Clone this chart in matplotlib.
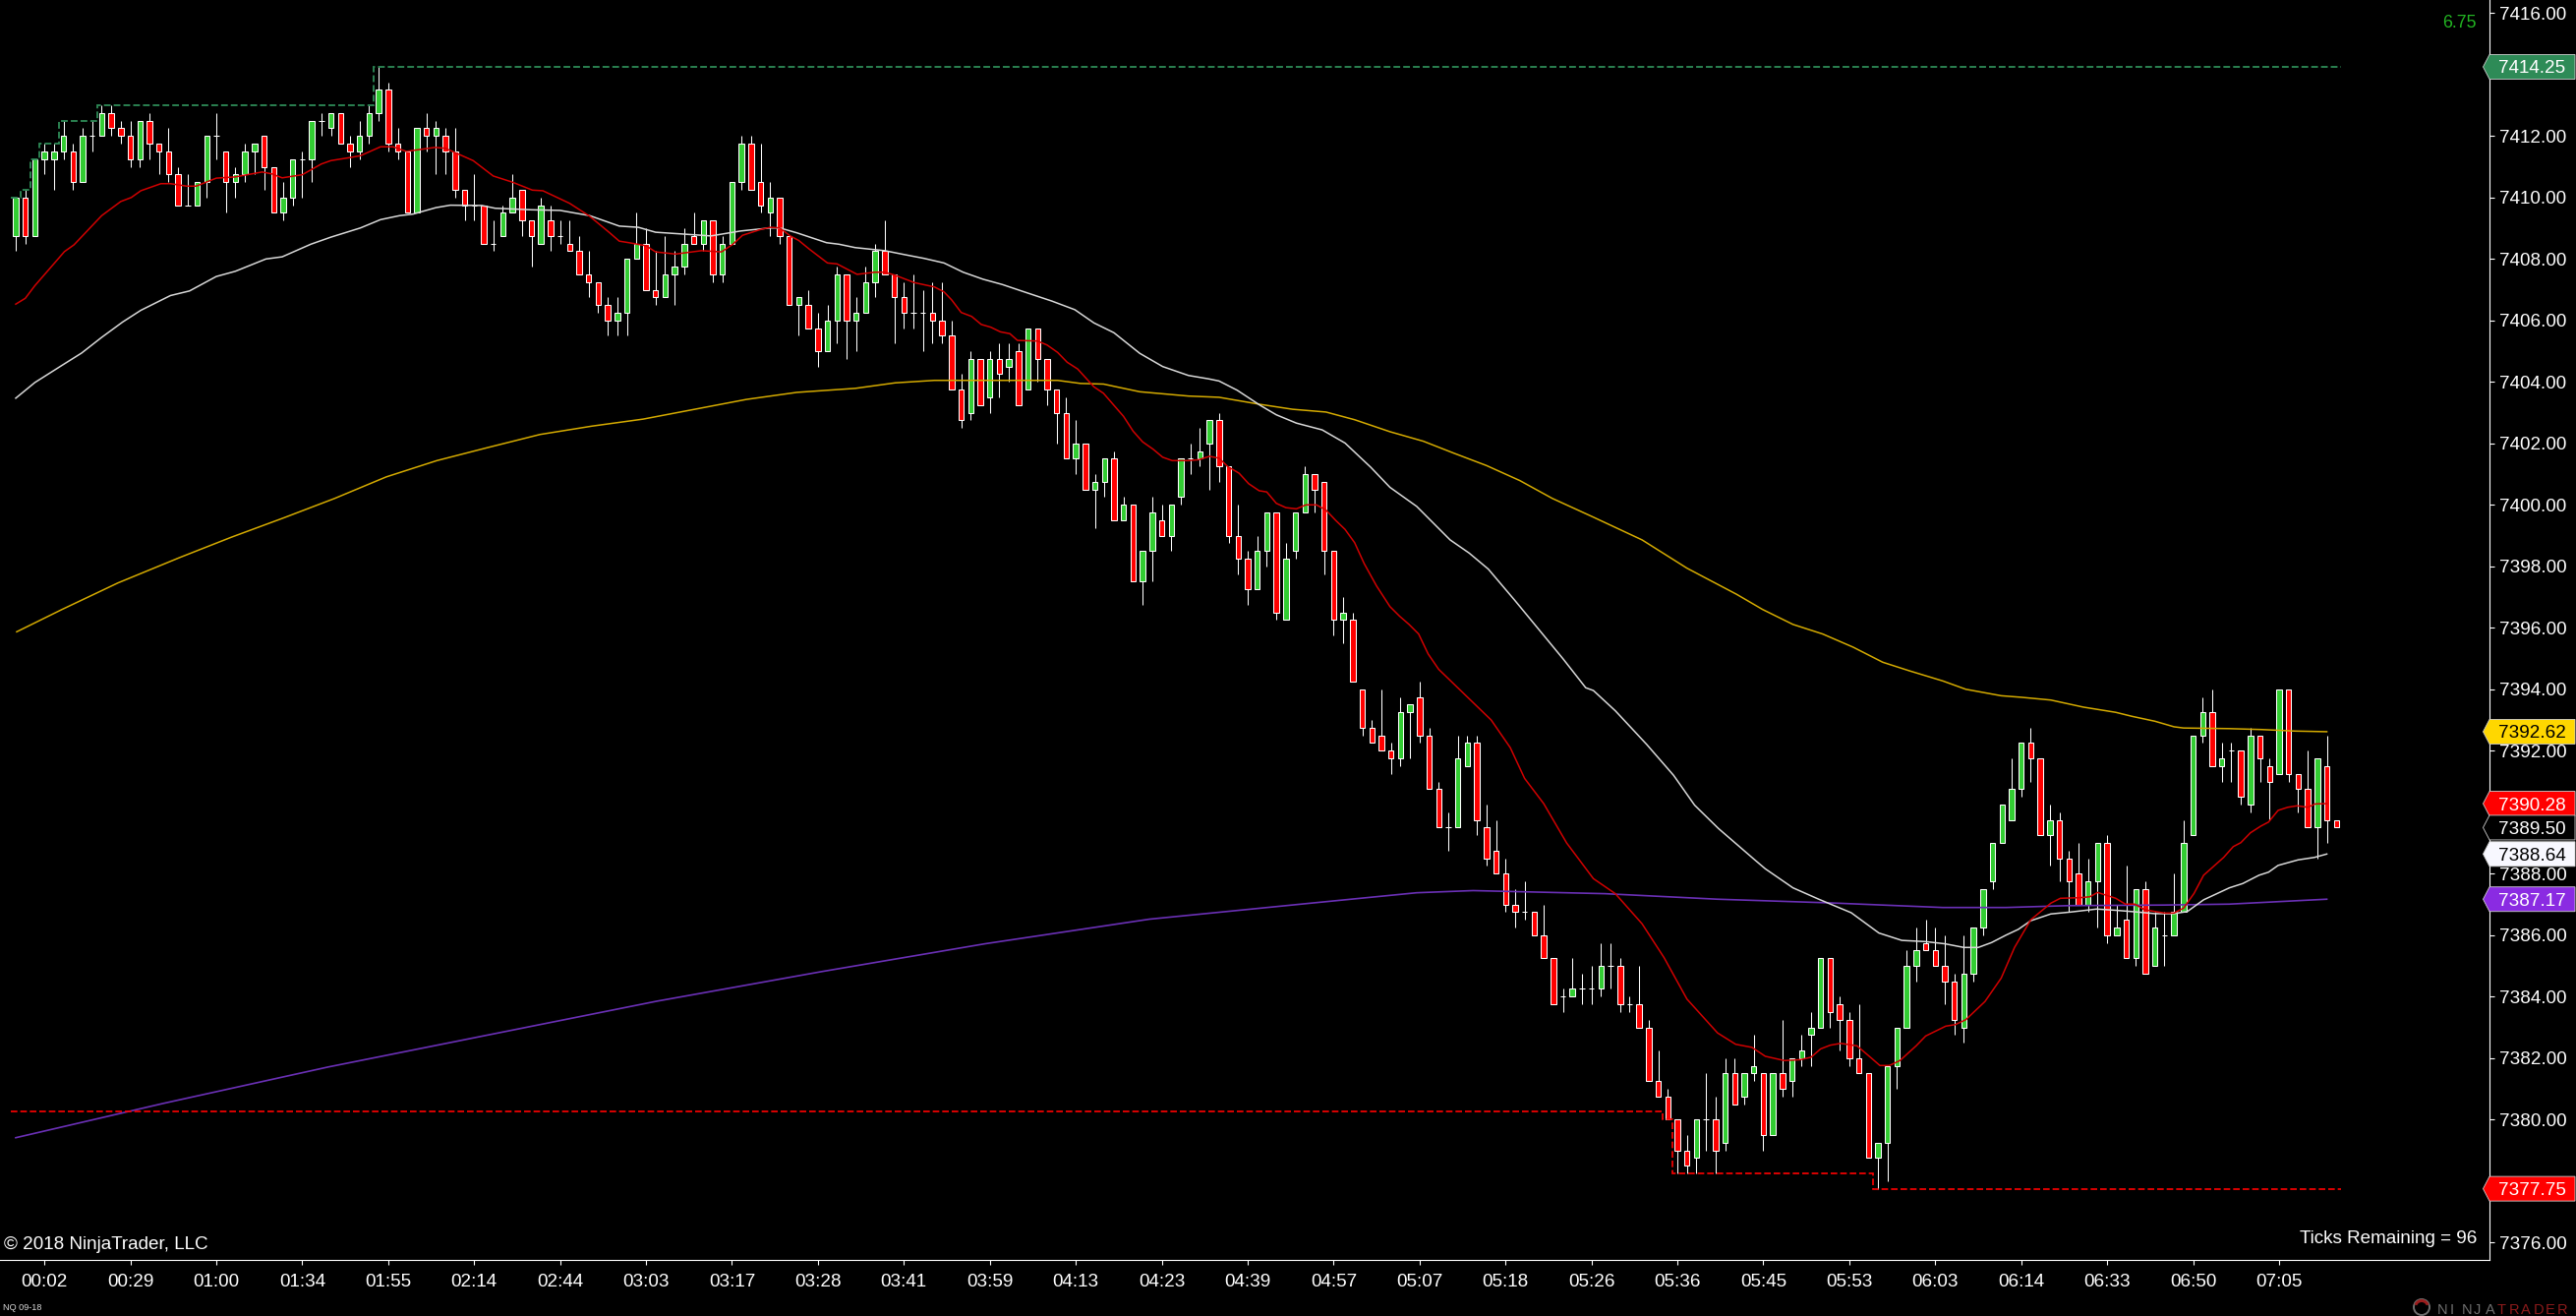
import matplotlib
matplotlib.use("Agg")
import matplotlib.pyplot as plt
import numpy as np
from matplotlib.patches import Polygon, Circle, Wedge

plt.rcParams['font.family'] = ['Liberation Sans', 'DejaVu Sans']

# ---------------- DATA ----------------
opens = [
    7408.75, 7410.0, 7408.75, 7411.25, 7411.25, 7411.5, 7411.5, 7410.5, 7412.0, 7412.0,
    7412.75, 7412.25, 7412.0, 7411.25, 7412.5, 7411.75, 7411.5, 7410.75, 7409.75, 7409.75,
    7410.5, 7412.0, 7411.5, 7410.5, 7410.75, 7411.5, 7412.0, 7411.0, 7409.5, 7410.0,
    7411.25, 7411.25, 7412.5, 7412.25, 7412.75, 7411.75, 7411.5, 7412.0, 7412.75, 7413.5,
    7411.75, 7411.5, 7409.5, 7412.25, 7412.0, 7412.0, 7411.5, 7410.25, 7409.75, 7409.75,
    7408.5, 7408.75, 7409.5, 7410.25, 7409.25, 7408.5, 7409.25, 7408.75, 7408.5, 7408.25,
    7407.5, 7407.25, 7406.5, 7406.0, 7406.25, 7408.0, 7408.5, 7407.0, 7406.75, 7407.5,
    7407.75, 7408.75, 7408.5, 7409.25, 7407.5, 7408.5, 7410.5, 7411.75, 7410.5, 7409.5,
    7410.0, 7408.75, 7406.5, 7406.5, 7405.75, 7405.0, 7406.0, 7407.5, 7406.0, 7406.25,
    7407.25, 7408.25, 7407.5, 7406.75, 7406.25, 7406.25, 7406.25, 7406.0, 7405.5, 7403.75,
    7403.0, 7404.75, 7403.5, 7404.75, 7404.5, 7405.0, 7403.75, 7405.75, 7404.75, 7403.75,
    7403.0, 7401.5, 7402.0, 7400.5, 7400.75, 7401.5, 7399.5, 7400.0, 7397.5, 7398.5,
    7399.5, 7399.0, 7400.25, 7401.5, 7401.5, 7402.0, 7402.75, 7401.25, 7399.0, 7398.25,
    7397.25, 7398.5, 7399.75, 7396.25, 7398.5, 7399.75, 7401.0, 7400.75, 7398.5, 7396.25,
    7396.25, 7394.0, 7392.75, 7392.5, 7392.0, 7391.75, 7393.25, 7393.75, 7392.5, 7390.75,
    7389.5, 7389.5, 7391.5, 7392.25, 7389.5, 7388.75, 7388.0, 7387.0, 7386.75, 7386.75,
    7386.0, 7385.25, 7384.0, 7384.0, 7384.25, 7384.25, 7384.25, 7385.0, 7385.0, 7383.75,
    7383.75, 7383.0, 7381.25, 7380.75, 7380.0, 7379.0, 7378.75, 7380.0, 7380.0, 7379.25,
    7381.5, 7380.75, 7381.5, 7381.5, 7379.5, 7381.5, 7381.25, 7382.0, 7382.75, 7383.0,
    7385.25, 7383.75, 7383.25, 7382.0, 7381.5, 7378.75, 7379.25, 7381.75, 7383.0, 7385.0,
    7385.75, 7385.5, 7385.0, 7384.5, 7383.0, 7384.75, 7386.25, 7387.75, 7389.0, 7389.75,
    7390.75, 7392.25, 7391.75, 7389.25, 7389.75, 7388.5, 7388.0, 7387.0, 7387.75, 7389.0,
    7386.0, 7386.5, 7385.25, 7387.5, 7385.0, 7386.0, 7386.0, 7386.75, 7389.25, 7392.5,
    7393.25, 7391.5, 7392.0, 7392.0, 7390.25, 7392.5, 7391.5, 7391.25, 7394.0, 7391.25,
    7390.75, 7389.5, 7391.5, 7389.75,
]
highs = [
    7410.0, 7410.25, 7411.25, 7411.75, 7411.75, 7412.5, 7411.75, 7412.25, 7412.5, 7413.0,
    7413.0, 7412.5, 7412.5, 7412.5, 7412.75, 7411.75, 7412.25, 7411.0, 7410.75, 7410.5,
    7412.0, 7412.75, 7411.5, 7411.0, 7411.75, 7411.75, 7412.0, 7411.0, 7410.5, 7411.25,
    7411.5, 7412.5, 7412.75, 7412.75, 7412.75, 7412.0, 7412.5, 7413.0, 7414.25, 7413.75,
    7412.25, 7411.5, 7412.25, 7412.75, 7412.5, 7412.25, 7412.25, 7410.25, 7410.75, 7409.75,
    7409.25, 7409.75, 7410.75, 7410.25, 7409.25, 7410.0, 7409.75, 7409.25, 7409.25, 7408.75,
    7408.25, 7407.25, 7406.75, 7406.75, 7408.0, 7409.5, 7409.0, 7408.25, 7408.75, 7408.25,
    7409.0, 7409.5, 7409.25, 7409.25, 7408.75, 7410.5, 7412.0, 7412.0, 7411.75, 7410.5,
    7410.0, 7408.75, 7406.75, 7407.0, 7406.25, 7406.5, 7407.75, 7407.5, 7406.75, 7407.75,
    7408.5, 7409.25, 7407.5, 7407.25, 7407.5, 7407.0, 7407.25, 7407.25, 7406.0, 7404.25,
    7405.0, 7404.75, 7405.0, 7405.25, 7405.25, 7405.25, 7405.75, 7405.75, 7404.75, 7403.75,
    7403.5, 7402.75, 7402.0, 7401.0, 7401.5, 7401.75, 7400.25, 7400.0, 7398.5, 7400.25,
    7400.0, 7400.0, 7401.5, 7402.0, 7402.5, 7402.75, 7403.0, 7401.25, 7400.0, 7398.5,
    7399.0, 7399.75, 7399.75, 7398.75, 7399.75, 7401.25, 7401.0, 7400.75, 7398.5, 7397.0,
    7396.5, 7394.0, 7393.0, 7394.0, 7392.25, 7393.75, 7393.5, 7394.25, 7392.75, 7391.0,
    7390.0, 7392.5, 7392.5, 7392.5, 7390.25, 7389.75, 7388.5, 7387.5, 7387.75, 7386.75,
    7387.0, 7385.25, 7384.25, 7385.25, 7384.75, 7385.0, 7385.75, 7385.75, 7385.25, 7384.0,
    7385.0, 7383.25, 7382.25, 7381.0, 7380.0, 7379.5, 7380.0, 7381.5, 7380.75, 7382.0,
    7382.0, 7381.5, 7382.75, 7381.5, 7381.5, 7383.25, 7382.0, 7382.75, 7383.5, 7385.25,
    7385.25, 7384.0, 7383.5, 7383.75, 7381.5, 7379.25, 7381.75, 7383.0, 7385.5, 7386.25,
    7386.5, 7386.25, 7386.0, 7384.75, 7386.0, 7386.25, 7387.5, 7389.0, 7390.25, 7391.75,
    7392.25, 7392.75, 7391.75, 7390.25, 7390.0, 7388.75, 7389.0, 7388.5, 7389.0, 7389.25,
    7387.0, 7388.25, 7387.5, 7387.75, 7386.75, 7386.75, 7388.0, 7389.75, 7392.5, 7393.75,
    7394.0, 7392.25, 7392.25, 7392.0, 7392.75, 7392.5, 7391.75, 7394.0, 7394.0, 7391.25,
    7392.0, 7391.75, 7392.5, 7389.75,
]
lows = [
    7408.25, 7408.5, 7408.75, 7410.75, 7410.25, 7411.25, 7410.25, 7410.5, 7411.5, 7412.0,
    7412.0, 7411.75, 7411.0, 7411.0, 7411.25, 7410.75, 7410.5, 7409.75, 7409.75, 7409.75,
    7410.0, 7411.25, 7409.5, 7410.0, 7410.5, 7410.75, 7410.25, 7409.5, 7409.25, 7409.75,
    7410.0, 7410.5, 7412.0, 7412.0, 7411.75, 7411.0, 7411.25, 7411.75, 7412.5, 7411.5,
    7411.25, 7409.5, 7409.5, 7411.5, 7410.75, 7410.75, 7410.0, 7409.25, 7409.25, 7408.5,
    7408.25, 7408.75, 7409.5, 7408.75, 7407.75, 7408.5, 7408.25, 7408.5, 7408.25, 7407.5,
    7406.75, 7406.25, 7405.5, 7405.5, 7405.5, 7408.0, 7407.0, 7406.5, 7406.75, 7406.5,
    7407.5, 7408.5, 7408.25, 7407.25, 7407.25, 7408.5, 7410.25, 7410.25, 7409.5, 7408.75,
    7408.5, 7406.5, 7405.5, 7405.75, 7404.5, 7405.0, 7405.25, 7404.75, 7405.0, 7406.25,
    7406.75, 7407.5, 7405.25, 7405.75, 7405.75, 7405.0, 7405.25, 7405.25, 7403.75, 7402.5,
    7402.75, 7403.25, 7403.0, 7403.5, 7404.0, 7403.25, 7403.75, 7404.0, 7403.25, 7402.0,
    7401.5, 7401.0, 7400.5, 7399.25, 7400.25, 7399.5, 7399.5, 7397.5, 7396.75, 7397.5,
    7399.0, 7398.5, 7400.0, 7401.0, 7401.25, 7400.5, 7400.75, 7398.75, 7397.75, 7396.75,
    7397.25, 7398.0, 7396.25, 7396.25, 7398.25, 7399.75, 7399.75, 7397.75, 7395.75, 7395.5,
    7394.25, 7392.5, 7392.25, 7392.0, 7391.25, 7391.5, 7391.75, 7392.25, 7390.75, 7389.5,
    7388.75, 7389.5, 7391.5, 7389.25, 7388.25, 7388.0, 7386.75, 7386.25, 7386.5, 7386.0,
    7385.25, 7383.75, 7383.5, 7384.0, 7383.75, 7383.75, 7384.0, 7384.25, 7383.5, 7383.5,
    7383.0, 7381.25, 7380.75, 7380.0, 7378.25, 7378.25, 7378.25, 7379.0, 7378.25, 7379.0,
    7380.5, 7380.5, 7381.25, 7379.0, 7379.5, 7380.75, 7380.75, 7381.75, 7381.75, 7383.0,
    7383.0, 7382.25, 7381.75, 7381.5, 7378.75, 7377.75, 7378.0, 7381.0, 7383.0, 7384.5,
    7385.5, 7385.0, 7383.75, 7382.75, 7382.5, 7384.5, 7386.0, 7387.5, 7389.0, 7389.75,
    7390.5, 7391.0, 7389.25, 7388.25, 7387.75, 7386.75, 7387.0, 7386.75, 7386.25, 7385.75,
    7386.0, 7385.25, 7385.0, 7384.75, 7385.0, 7385.0, 7386.0, 7386.75, 7389.25, 7392.25,
    7391.5, 7391.0, 7391.0, 7390.25, 7390.0, 7391.0, 7389.75, 7391.25, 7391.0, 7390.0,
    7389.5, 7388.5, 7389.0, 7389.5,
]
closes = [
    7410.0, 7408.75, 7411.25, 7411.5, 7411.5, 7412.0, 7410.5, 7412.0, 7412.0, 7412.75,
    7412.25, 7412.0, 7411.25, 7412.5, 7411.75, 7411.5, 7410.75, 7409.75, 7409.75, 7410.5,
    7412.0, 7412.0, 7410.5, 7410.75, 7411.5, 7411.75, 7411.0, 7409.5, 7410.0, 7411.25,
    7411.25, 7412.5, 7412.5, 7412.75, 7411.75, 7411.5, 7412.0, 7412.75, 7413.5, 7411.75,
    7411.5, 7409.5, 7412.25, 7412.0, 7412.25, 7411.5, 7410.25, 7409.75, 7409.75, 7408.5,
    7408.5, 7409.5, 7410.0, 7409.25, 7408.75, 7409.75, 7408.75, 7408.75, 7408.25, 7407.5,
    7407.25, 7406.5, 7406.0, 7406.25, 7408.0, 7408.5, 7407.0, 7406.75, 7407.5, 7407.75,
    7408.5, 7408.5, 7409.25, 7407.5, 7408.5, 7410.5, 7411.75, 7410.25, 7409.75, 7410.0,
    7408.75, 7406.5, 7406.75, 7405.75, 7405.0, 7406.0, 7407.5, 7406.0, 7406.25, 7407.25,
    7408.25, 7407.5, 7406.75, 7406.25, 7406.25, 7406.25, 7406.0, 7405.5, 7403.75, 7402.75,
    7404.75, 7403.25, 7404.75, 7404.25, 7404.75, 7403.25, 7405.75, 7404.75, 7403.75, 7403.0,
    7401.5, 7402.0, 7400.5, 7400.75, 7401.5, 7399.5, 7400.0, 7397.5, 7398.5, 7399.75,
    7399.0, 7400.0, 7401.5, 7401.5, 7401.75, 7402.75, 7401.25, 7399.0, 7398.25, 7397.25,
    7398.5, 7399.75, 7396.5, 7398.25, 7399.75, 7401.0, 7400.5, 7398.5, 7396.25, 7396.5,
    7394.25, 7392.75, 7392.25, 7392.0, 7391.75, 7393.25, 7393.5, 7392.5, 7390.75, 7389.5,
    7389.5, 7391.75, 7392.25, 7389.75, 7388.5, 7388.0, 7387.0, 7386.75, 7386.75, 7386.0,
    7385.25, 7383.75, 7384.0, 7384.25, 7384.25, 7384.25, 7385.0, 7385.0, 7383.75, 7383.75,
    7383.0, 7381.25, 7380.75, 7380.0, 7379.0, 7378.5, 7380.0, 7380.0, 7379.0, 7381.5,
    7380.5, 7381.5, 7381.75, 7379.5, 7381.5, 7381.0, 7382.0, 7382.25, 7383.0, 7385.25,
    7383.5, 7383.25, 7382.0, 7381.5, 7378.75, 7379.25, 7381.75, 7383.0, 7385.0, 7385.5,
    7385.5, 7385.0, 7384.5, 7383.25, 7384.75, 7386.25, 7387.5, 7389.0, 7390.25, 7390.75,
    7392.25, 7391.75, 7389.25, 7389.75, 7388.5, 7387.75, 7387.0, 7387.75, 7389.0, 7386.0,
    7386.25, 7385.25, 7387.5, 7384.75, 7386.25, 7386.0, 7386.75, 7389.0, 7392.5, 7393.25,
    7391.5, 7391.75, 7392.0, 7390.5, 7392.5, 7391.75, 7391.0, 7394.0, 7391.25, 7390.75,
    7389.5, 7391.75, 7389.75, 7389.5,
]

# moving averages: (bar index, value)
fast_ma = [
    (0, 7406.53), (1, 7406.72), (2, 7407.13), (5.1, 7408.24), (6.1, 7408.46), (9, 7409.41),
    (11, 7409.87), (12.1, 7410.0), (13.1, 7410.22), (15.2, 7410.45), (16.2, 7410.45),
    (17.9, 7410.37), (18.9, 7410.37), (21, 7410.63), (23, 7410.67), (25.8, 7410.83),
    (26.8, 7410.77), (27.9, 7410.64), (30, 7410.74), (32, 7411.09), (33, 7411.2), (35, 7411.3),
    (36.1, 7411.36), (38.2, 7411.65), (39.5, 7411.65), (40.9, 7411.5), (43.9, 7411.63),
    (45, 7411.6), (47.9, 7411.2), (50, 7410.7), (52, 7410.5), (54.1, 7410.24), (55.2, 7410.22),
    (58, 7409.81), (60.1, 7409.39), (62.2, 7408.85), (63.2, 7408.58), (64.2, 7408.53),
    (66, 7408.43), (67, 7408.23), (69.1, 7408.16), (71.8, 7408.27), (73.9, 7408.23),
    (75.1, 7408.48), (76.1, 7408.77), (78, 7408.96), (79, 7409.03), (80, 7409.01),
    (81.1, 7408.75), (82, 7408.6), (83.1, 7408.32), (85, 7407.87), (86, 7407.84), (88.1, 7407.5),
    (90, 7407.57), (91, 7407.57), (92.1, 7407.47), (94.1, 7407.23), (96.2, 7407.09),
    (97.2, 7406.93), (98, 7406.67), (99, 7406.26), (100.1, 7406.13), (101.1, 7405.87),
    (102.1, 7405.78), (103.1, 7405.63), (104.1, 7405.57), (104.9, 7405.35), (107, 7405.33),
    (108, 7405.2), (109.1, 7404.96), (110.1, 7404.64), (111.2, 7404.42), (112.9, 7403.84),
    (113.9, 7403.63), (116, 7402.88), (117, 7402.4), (118, 7402.05), (119.1, 7401.81),
    (120.1, 7401.55), (121.1, 7401.44), (122.8, 7401.44), (123.9, 7401.47), (125, 7401.58),
    (126, 7401.52), (126.9, 7401.25), (128.1, 7401.03), (129.1, 7400.69), (130.2, 7400.46),
    (131, 7400.42), (132, 7400.05), (133, 7399.91), (134.1, 7399.87), (135.1, 7400.0),
    (136.2, 7400.0), (137.2, 7399.83), (138.2, 7399.5), (139.2, 7399.2), (140.2, 7398.77),
    (141.2, 7398.09), (142.5, 7397.36), (143.9, 7396.69), (144.9, 7396.38), (145.9, 7396.11),
    (146.9, 7395.8), (147.9, 7395.15), (149, 7394.65), (150.5, 7394.2), (152.5, 7393.6),
    (154.5, 7393.0), (156.5, 7392.1), (158, 7391.1), (160, 7390.28), (162.4, 7389.0),
    (165.2, 7387.84), (167.5, 7387.35), (170.3, 7386.37), (172.6, 7385.27), (175, 7383.92),
    (178.2, 7382.82), (180.1, 7382.45), (181.8, 7382.35), (183.2, 7382.06), (185.2, 7381.92),
    (186.9, 7381.95), (188, 7382.03), (189, 7382.3), (190, 7382.42), (191.1, 7382.48),
    (192.8, 7382.4), (194.2, 7382.03), (195.2, 7381.76), (196.2, 7381.76), (197.3, 7381.92),
    (199, 7382.4), (200, 7382.72), (202.1, 7383.04), (203.1, 7383.09), (204.2, 7383.25),
    (206.2, 7383.84), (207.9, 7384.6), (209.3, 7385.6), (211, 7386.5), (213.1, 7387.04),
    (214.1, 7387.2), (216.2, 7387.22), (217.2, 7387.25), (218, 7387.39), (218.9, 7387.3),
    (219.9, 7387.2), (220.9, 7387.01), (221.9, 7387.01), (222.9, 7386.83), (224, 7386.77),
    (225, 7386.72), (226, 7386.72), (227, 7386.88), (228.1, 7387.36), (229.1, 7387.95),
    (231.2, 7388.53), (232.2, 7388.88), (233, 7389.01), (234, 7389.33), (235.1, 7389.55),
    (235.9, 7389.68), (236.9, 7390.06), (237.9, 7390.16), (238.9, 7390.21), (240, 7390.16),
    (240.8, 7390.27), (242, 7390.28),
]
mid_ma = [
    (0, 7403.47), (2, 7403.98), (4.9, 7404.55), (6.9, 7404.94), (9, 7405.45), (11.2, 7405.95),
    (13.1, 7406.33),
    (16.2, 7406.81), (18.2, 7406.96), (21, 7407.43), (23, 7407.6), (26.2, 7408.0), (27.9, 7408.07),
    (30.9, 7408.48), (33, 7408.71), (36.1, 7409.01), (38.2, 7409.28), (40.2, 7409.41),
    (41.6, 7409.46), (44, 7409.67), (45.5, 7409.75), (48.8, 7409.74), (50.2, 7409.65),
    (54, 7409.6), (57, 7409.58), (60.1, 7409.41), (63.2, 7409.07), (65.2, 7409.03), (67, 7408.87),
    (70.4, 7408.8), (72.8, 7408.75), (75.9, 7408.91), (79, 7409.01), (80, 7409.01),
    (81.8, 7408.85), (84.9, 7408.53), (86.2, 7408.48), (87.9, 7408.37), (91, 7408.27),
    (93.1, 7408.14), (95.1, 7408.02), (97.2, 7407.87), (99.2, 7407.57), (101.3, 7407.34),
    (103.3, 7407.17), (105.4, 7406.95), (108.5, 7406.63), (110.9, 7406.35), (112.9, 7405.92),
    (115, 7405.6), (117.7, 7404.93), (120.1, 7404.5), (122.8, 7404.21), (124.9, 7404.1),
    (126, 7404.03), (127.9, 7403.73), (130.3, 7403.24), (132, 7402.93), (134.1, 7402.66),
    (136.8, 7402.44), (139.2, 7402.01), (141.9, 7401.22), (143.9, 7400.57), (146.7, 7399.95),
    (150.2, 7398.86), (152.2, 7398.43), (154.2, 7397.91), (156.9, 7396.92), (159, 7396.13),
    (162, 7395.0), (164.4, 7394.05), (165.2, 7393.96), (167.5, 7393.3), (170.8, 7392.2),
    (173.6, 7391.2), (175.8, 7390.23), (178.3, 7389.47), (182.1, 7388.45), (183.2, 7388.16),
    (186.1, 7387.54), (188.8, 7387.17), (192.2, 7386.73), (195.1, 7386.07), (197.5, 7385.83),
    (200, 7385.79), (202, 7385.72), (204, 7385.6), (205.5, 7385.6), (206.9, 7385.76),
    (208.4, 7386.0), (209.7, 7386.19), (211, 7386.47), (213.1, 7386.69), (215.1, 7386.75),
    (217.9, 7386.85), (219.9, 7386.81), (222.3, 7386.75), (224, 7386.7), (226, 7386.7),
    (227.4, 7386.77), (229.1, 7387.15), (231.8, 7387.54), (233.2, 7387.68), (234.9, 7387.95),
    (235.9, 7388.05), (236.9, 7388.27), (239, 7388.45), (240.7, 7388.53), (242, 7388.64),
]
slow_ma = [
    (0.1, 7395.87), (4.8, 7396.59), (10.7, 7397.46), (17.2, 7398.29), (22.6, 7398.95),
    (28, 7399.57), (33.4, 7400.21), (38.8, 7400.91), (44.1, 7401.44), (49.5, 7401.87),
    (54.9, 7402.29), (60.3, 7402.56), (65.7, 7402.79), (71.1, 7403.11), (76.5, 7403.43),
    (81.8, 7403.66), (87.9, 7403.79), (92.1, 7403.97), (96.2, 7404.05), (102.4, 7404.05),
    (109.1, 7404.05), (111.5, 7403.95), (113.9, 7403.93), (117.7, 7403.68), (122.8, 7403.54),
    (126, 7403.5), (130.3, 7403.27), (133.7, 7403.11), (137.2, 7403.02), (140.2, 7402.77),
    (143.9, 7402.38), (147.4, 7402.07), (150.6, 7401.68), (154, 7401.28), (157.5, 7400.79),
    (160.9, 7400.21), (165.2, 7399.6), (170.3, 7398.86), (175, 7397.94), (180.2, 7397.09),
    (182.9, 7396.6), (186.1, 7396.11), (189.2, 7395.8), (192.4, 7395.37), (195.5, 7394.88),
    (198.3, 7394.6), (201.8, 7394.27), (204.2, 7394.0), (207.9, 7393.79), (210, 7393.74),
    (213.1, 7393.65), (216.5, 7393.42), (219.9, 7393.25), (221.6, 7393.12), (224, 7392.96),
    (226, 7392.78), (227, 7392.74), (231.8, 7392.72), (235.2, 7392.69), (238.7, 7392.64),
    (242, 7392.62),
]
long_ma = [
    (0, 7379.41), (15.5, 7380.53), (32.7, 7381.71), (49.9, 7382.78), (67.1, 7383.85),
    (84.3, 7384.81), (101.5, 7385.72), (118.7, 7386.52), (135.9, 7387.05), (146.7, 7387.38),
    (152.6, 7387.45), (166.4, 7387.35), (178.2, 7387.17), (190, 7387.05), (201.8, 7386.9),
    (208.4, 7386.9), (214.8, 7386.96), (225, 7386.98), (231.8, 7387.01), (236.9, 7387.09),
    (242, 7387.17),
]
prior_low = 7380.25

time_tick_bars = list(range(3, 244, 9))
time_labels = ["00:02", "00:29", "01:00", "01:34", "01:55", "02:14", "02:44", "03:03", "03:17",
               "03:28", "03:41", "03:59", "04:13", "04:23", "04:39", "04:57", "05:07", "05:18",
               "05:26", "05:36", "05:45", "05:53", "06:03", "06:14", "06:33", "06:50", "07:05"]
price_ticks = list(range(7376, 7417, 2))
hidden_price_labels = [7414, 7390, 7378]   # covered by the value markers in the reference

axis_markers = [
    (7414.25, '#2E8B57', 'white'),
    (7392.62, '#FFD700', 'black'),
    (7390.28, '#FF0000', 'white'),
    (7389.50, '#000000', 'white'),
    (7388.64, '#F8F8FF', 'black'),
    (7387.17, '#8A2BE2', 'white'),
    (7377.75, '#FF0000', 'white'),
]

# ---------------- FIGURE ----------------
W, H = 2620, 1338
fig = plt.figure(figsize=(W / 100, H / 100), dpi=100, facecolor='black')
ax = fig.add_axes([0, 57 / H, 2532 / W, 1281 / H])
ax.set_facecolor('black')

O = np.array(opens); Hh = np.array(highs); L = np.array(lows); C = np.array(closes)
n = len(O)
x = np.arange(n)

px_per_bar = 9.713
ax.set_xlim(-16 / px_per_bar, 2516 / px_per_bar)
ax.set_ylim(7416 - (1281 - 13.3) / 31.25, 7416 + 13.3 / 31.25)

lw1 = 0.75
bw = 0.56
ax.vlines(x, L, Hh, colors='white', lw=lw1, zorder=2)
up = C > O
dn = C < O
dj = C == O
ax.bar(x[up], (C - O)[up], bottom=O[up], width=bw, color='#32CD32',
       edgecolor='white', linewidth=lw1, zorder=3)
ax.bar(x[dn], (O - C)[dn], bottom=C[dn], width=bw, color='#FF0000',
       edgecolor='white', linewidth=lw1, zorder=3)
ax.hlines(O[dj], x[dj] - bw / 2, x[dj] + bw / 2, colors='white', lw=lw1, zorder=3)

# moving averages
for data, col, lw in [(long_ma, '#6A30B5', 1.2), (slow_ma, '#D4AA00', 1.1),
                      (mid_ma, '#D8D8D8', 1.1), (fast_ma, '#D00000', 1.1)]:
    xi, yi = zip(*data)
    ax.plot(xi, yi, color=col, lw=lw, zorder=4, solid_joinstyle='round')

# running high / low dashed step lines
edges = np.arange(n + 1) - 0.5
run_high = np.maximum.accumulate(Hh)
run_low = np.minimum.accumulate(np.concatenate([[prior_low], L]))[1:]
ax.stairs(run_high, edges, baseline=None, color='#2E8B57', lw=1.3,
          linestyle=(0, (3.8, 1.7)), zorder=5)
ax.stairs(run_low, edges, baseline=None, color='#FF0000', lw=1.2,
          linestyle=(0, (4.0, 1.8)), zorder=5)

# axes styling
for s in ['top', 'left']:
    ax.spines[s].set_visible(False)
for s in ['right', 'bottom']:
    ax.spines[s].set_color('white')
    ax.spines[s].set_linewidth(0.8)
ax.yaxis.tick_right()
ax.set_yticks(price_ticks)
ax.set_yticklabels(["" if v in hidden_price_labels else f"{v:.2f}" for v in price_ticks])
ax.set_xticks(time_tick_bars)
ax.set_xticklabels(time_labels)
ax.tick_params(axis='y', colors='white', labelcolor='white', length=3.6, width=0.8,
               labelsize=13.6, pad=3.3)
ax.tick_params(axis='x', colors='white', labelcolor='white', length=3.6, width=0.8,
               labelsize=13.6, pad=6.5)

# ---------------- OVERLAY (pixel coordinates) ----------------
ov = fig.add_axes([0, 0, 1, 1], zorder=10)
ov.set_xlim(0, W)
ov.set_ylim(H, 0)
ov.axis('off')
ov.patch.set_visible(False)


def py(price):
    return H - ax.transData.transform((0, price))[1]


for val, fc, tc in axis_markers:
    yc = py(val)
    poly = Polygon([(2525.5, yc), (2532, yc - 12.5), (2619, yc - 12.5), (2619, yc + 12.5),
                    (2532, yc + 12.5)], closed=True, facecolor=fc, edgecolor='#D0D0D0', lw=0.6)
    ov.add_patch(poly)
    ov.text(2541.5, yc, f"{val:.2f}", color=tc, fontsize=13.6, ha='left', va='center_baseline')

ov.text(2519, 21, "6.75", color='#22B422', fontsize=12.8, ha='right', va='center_baseline')
ov.text(4, 1263, "\u00a9 2018 NinjaTrader, LLC", color='white', fontsize=13.6,
        ha='left', va='center_baseline')
ov.text(2519, 1257, "Ticks Remaining = 96", color='white', fontsize=13.6,
        ha='right', va='center_baseline')
ov.text(3, 1329, "NQ 09-18", color='#D8D8D8', fontsize=6.6, ha='left', va='center_baseline')

# NinjaTrader logo
ov.add_patch(Circle((2463, 1329), 8, fill=False, edgecolor='#6E6E6E', lw=1.4))
ov.add_patch(Wedge((2463, 1329), 8, 200, 340, width=3, facecolor='#9A1C1C', edgecolor='none'))
logo = "NINJATRADER"
for k, ch in enumerate(logo):
    ov.text(2479 + k * 12.2, 1330, ch, color='#707070' if k < 5 else '#8E1B1B',
            fontsize=10.5, ha='left', va='center_baseline')

fig.savefig('out.png', dpi=100, facecolor='black')
